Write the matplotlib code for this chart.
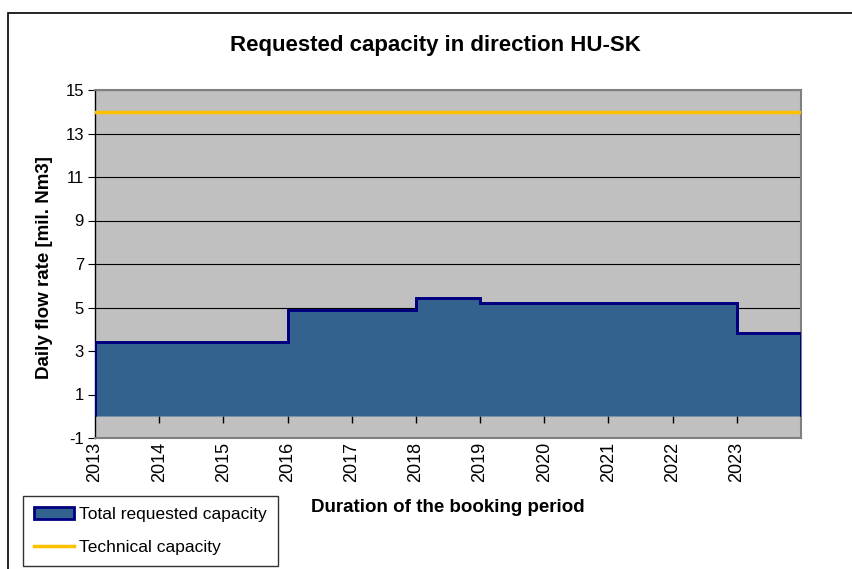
import matplotlib.pyplot as plt
from matplotlib.patches import Patch, Rectangle
from matplotlib.lines import Line2D

plt.rcParams['font.family'] = ['Liberation Sans', 'DejaVu Sans']
plt.rcParams['axes.unicode_minus'] = False

# booking period boundaries and total requested capacity (mil. Nm3/day)
period_edges = [2013, 2016, 2018, 2019, 2023, 2024]
requested = [3.4, 4.9, 5.45, 5.2, 3.85]
technical_capacity = 14
year_labels = [str(y) for y in range(2013, 2024)]
y_ticks = list(range(-1, 16, 2))

fill_col = '#34628f'
edge_col = '#000080'
tech_col = '#FFC000'

fig = plt.figure(figsize=(8.53, 5.69), dpi=100)
ax = fig.add_axes([95/853, 1 - 438/569, (801-95)/853, (438-90)/569])

ax.set_facecolor('#C0C0C0')
ax.stairs(requested, period_edges, baseline=0, fill=True,
          facecolor=fill_col, edgecolor=edge_col, linewidth=2, zorder=3)
ax.stairs(requested, period_edges, baseline=0, fill=False,
          color=edge_col, linewidth=2, zorder=4)
ax.axhline(technical_capacity, color=tech_col, linewidth=2.5, zorder=5)

ax.set_xlim(period_edges[0], period_edges[-1])
ax.set_ylim(-1, 15)
ax.set_yticks(y_ticks)
ax.yaxis.grid(True, color='black', linewidth=0.8)
ax.set_axisbelow(True)
ax.tick_params(axis='y', direction='out', length=5, labelsize=12, pad=3)

years = list(range(2013, 2024))
ax.set_xticks(years)
ax.set_xticklabels(year_labels, rotation=90)
ax.tick_params(axis='x', length=0, labelsize=13, pad=3)

# category axis crosses at y = 0, ticks drawn there
sec = ax.secondary_xaxis(1/16)
sec.set_xticks(years[1:])
sec.tick_params(axis='x', direction='out', length=5, labelbottom=False,
                width=1, color='black')
sec.spines['bottom'].set_visible(False)

for s in ax.spines.values():
    s.set_color('#808080')
    s.set_linewidth(1.5)
ax.spines['left'].set_color('black')
ax.spines['left'].set_linewidth(1)

fig.text(435/853, 1 - 45/569, 'Requested capacity in direction HU-SK',
         ha='center', va='center', fontsize=16, fontweight='bold')
fig.text(448/853, 1 - 507/569, 'Duration of the booking period',
         ha='center', va='center', fontsize=13.5, fontweight='bold')
fig.text(45/853, 1 - 268/569, 'Daily flow rate [mil. Nm3]',
         ha='center', va='center', rotation=90, fontsize=13.5, fontweight='bold')

handles = [Patch(facecolor=fill_col, edgecolor=edge_col, linewidth=2),
           Line2D([], [], color=tech_col, linewidth=2.5)]
leg = fig.legend(handles, ['Total requested capacity', 'Technical capacity'],
                 loc='lower left', bbox_to_anchor=(23/853, 3/569),
                 fontsize=12.5, frameon=True, fancybox=False, borderaxespad=0,
                 handlelength=2.3, handletextpad=0.3, borderpad=0.65,
                 labelspacing=1.0)
leg.get_frame().set_edgecolor('black')
leg.get_frame().set_linewidth(1)

fig.patches.append(Rectangle((8/853, -0.02), 1.0, 1.02 - 13/569,
                             transform=fig.transFigure, fill=False,
                             edgecolor='black', linewidth=1.2))

fig.savefig('out.png', dpi=100)
